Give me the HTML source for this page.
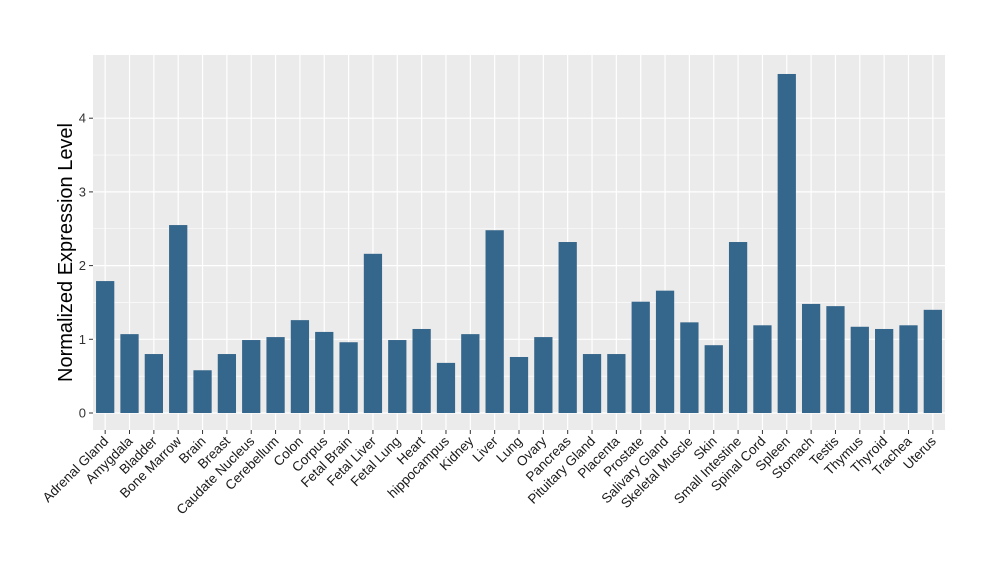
<!DOCTYPE html>
<html><head><meta charset="utf-8"><style>body{margin:0;background:#fff}svg{display:block;font-family:"Liberation Sans",sans-serif}</style></head>
<body>
<svg id="chart" width="1000" height="580"></svg>
<script>
const categories=["Adrenal Gland","Amygdala","Bladder","Bone Marrow","Brain","Breast","Caudate Nucleus","Cerebellum","Colon","Corpus","Fetal Brain","Fetal Liver","Fetal Lung","Heart","hippocampus","Kidney","Liver","Lung","Ovary","Pancreas","Pituitary Gland","Placenta","Prostate","Salivary Gland","Skeletal Muscle","Skin","Small Intestine","Spinal Cord","Spleen","Stomach","Testis","Thymus","Thyroid","Trachea","Uterus"];
const values=[1.79,1.07,0.80,2.55,0.58,0.80,0.99,1.03,1.26,1.10,0.96,2.16,0.99,1.14,0.68,1.07,2.48,0.76,1.03,2.32,0.80,0.80,1.51,1.66,1.23,0.92,2.32,1.19,4.60,1.48,1.45,1.17,1.14,1.19,1.40];
const yTicks=[0,1,2,3,4];
const NS="http://www.w3.org/2000/svg";
const svg=document.getElementById("chart");
const L=93,R=945,T=55,B=430;
const y0=413,pxPerUnit=73.7;
const yScale=v=>y0-v*pxPerUnit;
const step=(R-L)/categories.length;
const xScale=i=>L+step*(i+0.5);
function mk(tag,attrs,parent){const e=document.createElementNS(NS,tag);for(const k in attrs)e.setAttribute(k,attrs[k]);(parent||svg).appendChild(e);return e;}
const panel=mk("rect",{x:L,y:T,width:R-L,height:B-T,fill:"#ebebeb"});


for(let i=0;i<yTicks.length-1;i++){const ym=yScale((yTicks[i]+yTicks[i+1])/2);mk("line",{x1:L,x2:R,y1:ym,y2:ym,stroke:"#fff","stroke-width":0.6});}
yTicks.forEach(t=>{const y=yScale(t);
const g=mk("line",{x1:L,x2:R,y1:y,y2:y,stroke:"#fff","stroke-width":1.2});


mk("line",{x1:L-4,x2:L,y1:y,y2:y,stroke:"#333","stroke-width":1});
const tx=mk("text",{x:L-7,y:y+4.5,"text-anchor":"end","font-size":13,fill:"#333"});tx.textContent=t;

});
categories.forEach((c,i)=>{const x=xScale(i);
mk("line",{x1:x,x2:x,y1:T,y2:B,stroke:"#fff","stroke-width":1.2});});
categories.forEach((c,i)=>{const x=xScale(i),w=step*0.75;
const r=mk("rect",{x:x-w/2,y:yScale(values[i]),width:w,height:y0-yScale(values[i]),fill:"#35668b"});


mk("line",{x1:x,x2:x,y1:B,y2:B+4,stroke:"#333","stroke-width":1});
const t=mk("text",{x:x+4,y:B+12,"text-anchor":"end","font-size":13.5,fill:"#1a1a1a",transform:`rotate(-45 ${x+4} ${B+12})`});t.textContent=c;

});
const yl=mk("text",{x:72,y:(T+B)/2+10,"text-anchor":"middle","font-size":20,fill:"#000",transform:`rotate(-90 72 ${(T+B)/2+10})`});yl.textContent="Normalized Expression Level";


</script>
</body></html>
